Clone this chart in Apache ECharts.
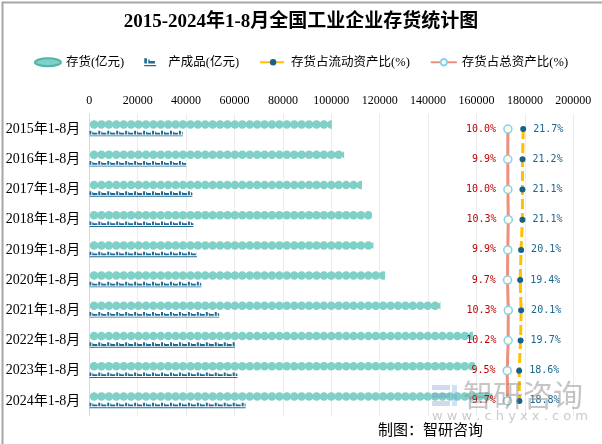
<!DOCTYPE html>
<html><head><meta charset="utf-8">
<script src="https://cdn.jsdelivr.net/npm/echarts@6/dist/echarts.min.js"></script>
<style>html,body{margin:0;padding:0;background:#fff}#c{width:602px;height:444px}</style>
</head><body><div id="c"></div>
<script>
const categories = ['2015年1-8月','2016年1-8月','2017年1-8月','2018年1-8月','2019年1-8月','2020年1-8月','2021年1-8月','2022年1-8月','2023年1-8月','2024年1-8月'];
const inventory = [100200, 105300, 112700, 116800, 117400, 122200, 145100, 158500, 159400, 166500];
const products = [38600, 40000, 42600, 43000, 44500, 46300, 53700, 60200, 61200, 64600];
const ratioCurrent = [21.7, 21.2, 21.1, 21.1, 20.1, 19.4, 20.1, 19.7, 18.6, 18.8];
const ratioTotal = [10.0, 9.9, 10.0, 10.3, 9.9, 9.7, 10.3, 10.2, 9.5, 9.7];
const xTicks = { min: 0, max: 200000, interval: 20000 };

const serif = "'Liberation Serif','Noto Sans CJK SC'";
const chart = echarts.init(document.getElementById('c'), null, {renderer:'canvas'});
const productPath = 'path://M0,0H2V4H0Z M3,1H4V2H8V4H3Z M0,5H9V6H0Z';
const ellipsePath = 'path://M0,4A13,4 0 1,1 26,4A13,4 0 1,1 0,4Z';
chart.setOption({
  animation: false,
  backgroundColor: '#fff',
  title: {
    text: '2015-2024年1-8月全国工业企业存货统计图',
    left: 'center', top: 8,
    textStyle: { fontFamily: serif, fontSize: 19, fontWeight: 'bold', color: '#000' }
  },
  legend: {
    top: 51, left: 'center', itemWidth: 26, itemHeight: 8, itemGap: 20,
    textStyle: { fontFamily: serif, fontSize: 12.5, color: '#000' },
    data: [
      { name: '存货(亿元)', icon: ellipsePath },
      { name: '产成品(亿元)', icon: productPath },
      { name: '存货占流动资产比(%)' },
      { name: '存货占总资产比(%)' }
    ]
  },
  grid: { left: 89.3, right: 28.7, top: 114, bottom: 28 },
  xAxis: [{
    type: 'value', position: 'top', min: xTicks.min, max: xTicks.max, interval: xTicks.interval,
    axisLine: { show: false }, axisTick: { show: false },
    axisLabel: { margin: 7, fontFamily: serif, fontSize: 12, color: '#000', formatter: v => String(v) },
    splitLine: { lineStyle: { color: '#ececec' } }
  }, {
    type: 'value', min: -310, max: 60, show: false, splitLine: { show: false }
  }],
  yAxis: {
    type: 'category', inverse: true, data: categories,
    axisLine: { lineStyle: { color: '#d9d9d9' } }, axisTick: { show: false },
    axisLabel: { margin: 9, fontFamily: serif, fontSize: 14, color: '#000' }
  },
  series: [{
    name: '存货(亿元)', type: 'pictorialBar', data: inventory,
    symbol: 'circle', symbolSize: [8.5, 8.5], symbolRepeat: true, symbolClip: true, symbolMargin: -1,
    symbolOffset: [0, -4.5],
    itemStyle: { color: '#7fd0c6', borderColor: '#4fb5aa', borderWidth: 1 }
  }, {
    name: '产成品(亿元)', type: 'pictorialBar', data: products,
    symbol: productPath, symbolSize: [9, 5.5], symbolRepeat: true, symbolClip: true, symbolMargin: 0,
    symbolOffset: [0, 4.5],
    itemStyle: { color: '#1f6b94' }
  }, {
    name: '存货占流动资产比(%)', type: 'line', xAxisIndex: 1, data: ratioCurrent,
    symbol: 'circle', symbolSize: 6, z: 5,
    lineStyle: { color: '#ffc000', width: 3, type: [10, 4] },
    itemStyle: { color: '#17618a' },
    label: { show: true, position: 'right', distance: 7, color: '#1a6690',
      fontFamily: "'DejaVu Sans Mono'", fontSize: 10,
      formatter: p => p.value.toFixed(1) + '%' }
  }, {
    name: '存货占总资产比(%)', type: 'line', xAxisIndex: 1, data: ratioTotal,
    symbol: 'circle', symbolSize: 8, z: 5,
    lineStyle: { color: '#ef8f7b', width: 3 },
    itemStyle: { color: '#fffbe8', borderColor: '#86d0f0', borderWidth: 1.5 },
    label: { show: true, position: 'left', distance: 7, color: '#c00000',
      fontFamily: "'DejaVu Sans Mono'", fontSize: 10,
      formatter: p => p.value.toFixed(1) + '%' }
  }],
  graphic: [
    { type: 'rect', left: 0, top: 0, shape: { width: 601, height: 443 }, style: { fill: 'none', stroke: '#a6a6a6', lineWidth: 2 }, z: 100 },
    { type: 'text', left: 378, top: 422, style: { text: '制图：智研咨询', font: "15px 'Noto Sans CJK SC'", fill: '#000' } },
    { type: 'rect', left: 432, top: 385, shape: { width: 18, height: 5 }, style: { fill: 'rgba(120,150,200,0.35)' }, z: 50 },
    { type: 'rect', left: 432, top: 393, shape: { width: 18, height: 5 }, style: { fill: 'rgba(120,150,200,0.35)' }, z: 50 },
    { type: 'rect', left: 432, top: 401, shape: { width: 18, height: 5 }, style: { fill: 'rgba(120,150,200,0.35)' }, z: 50 },
    { type: 'rect', left: 452, top: 385, shape: { width: 5, height: 21 }, style: { fill: 'rgba(120,170,220,0.35)' }, z: 50 },
    { type: 'text', left: 463, top: 380, style: { text: '智研咨询', font: "30px 'Noto Sans CJK SC'", fill: 'rgba(140,140,140,0.5)' }, z: 50 },
    { type: 'text', left: 432, top: 410, style: { text: 'w w w . c h y x x . c o m', font: "13px 'DejaVu Sans'", fill: 'rgba(150,150,150,0.5)' }, z: 50 }
  ]
});
</script></body></html>
